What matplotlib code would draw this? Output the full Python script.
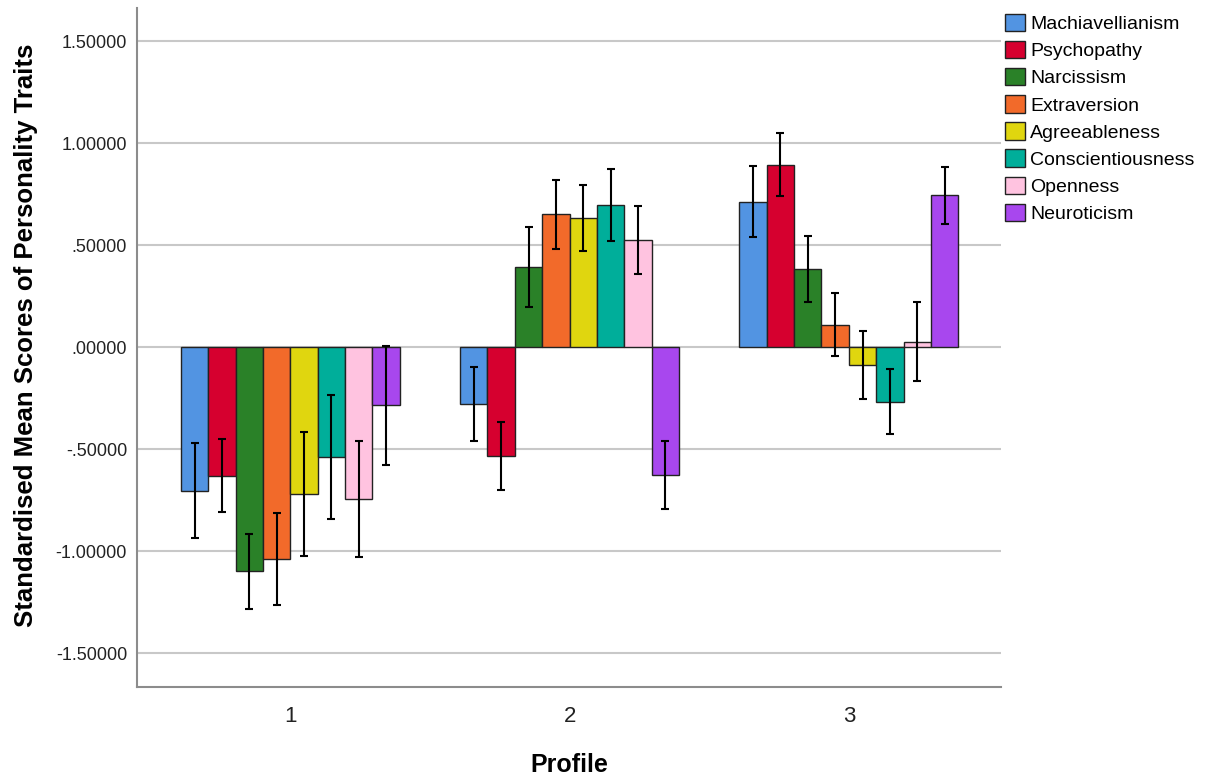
"""
Standardised mean scores of personality traits by profile
"""
import numpy as np
import matplotlib.pyplot as plt

plt.rcParams['font.family'] = ['Liberation Sans', 'DejaVu Sans']

profiles = ["1", "2", "3"]
traits = ["Machiavellianism", "Psychopathy", "Narcissism", "Extraversion",
          "Agreeableness", "Conscientiousness", "Openness", "Neuroticism"]
colors = ["#5294E2", "#D6002F", "#2A8128", "#F26A2A",
          "#E0D60F", "#00AE9A", "#FFC3E0", "#A847EE"]

# mean per trait, one list per profile
means_p1 = [-0.703, -0.629, -1.098, -1.039, -0.719, -0.536, -0.745, -0.284]
means_p2 = [-0.278, -0.533, 0.395, 0.652, 0.634, 0.698, 0.526, -0.626]
means_p3 = [0.714, 0.896, 0.384, 0.111, -0.088, -0.266, 0.028, 0.745]

# half-width of error bars
err_p1 = [0.234, 0.178, 0.185, 0.226, 0.305, 0.304, 0.285, 0.292]
err_p2 = [0.180, 0.168, 0.195, 0.170, 0.163, 0.177, 0.166, 0.168]
err_p3 = [0.174, 0.153, 0.160, 0.156, 0.166, 0.158, 0.194, 0.138]

means = np.array([means_p1, means_p2, means_p3])
errs = np.array([err_p1, err_p2, err_p3])

fig = plt.figure(figsize=(12.23, 7.78), dpi=100)
ax = fig.add_axes([0.1118, 0.1174, 0.7067, 0.8724])

x = np.arange(1, len(profiles) + 1)
w = 0.098
n = len(traits)
for i, trait in enumerate(traits):
    pos = x + (i - (n - 1) / 2) * w
    ax.bar(pos, means[:, i], width=w, color=colors[i], edgecolor="#222222",
           linewidth=1.0, label=trait, zorder=3)
    ax.errorbar(pos, means[:, i], yerr=errs[:, i], fmt="none", ecolor="black",
                elinewidth=1.5, capsize=2.6, capthick=1.5, zorder=4)

ax.set_xlim(0.45, 3.545)
ax.set_ylim(-1.664, 1.664)
ax.set_xticks(x)
ax.set_xticklabels(profiles, fontsize=16)
yt = [-1.5, -1.0, -0.5, 0.0, 0.5, 1.0, 1.5]
ax.set_yticks(yt)
ax.set_yticklabels(["-1.50000", "-1.00000", "-.50000", ".00000",
                    ".50000", "1.00000", "1.50000"], fontsize=13)
ax.tick_params(axis="both", length=0, colors="#222222")
ax.tick_params(axis="y", pad=7)
ax.tick_params(axis="x", pad=14)

ax.grid(axis="y", color="#C8C8C8", linewidth=1.5, zorder=0)
for s in ["top", "right"]:
    ax.spines[s].set_visible(False)
for s in ["left", "bottom"]:
    ax.spines[s].set_color("#8C8C8C")
    ax.spines[s].set_linewidth(1.5)

ax.set_xlabel("Profile", fontsize=18, fontweight="bold", labelpad=19)
ax.set_ylabel("Standardised Mean Scores of Personality Traits", fontsize=18.5,
              fontweight="bold")
ax.yaxis.set_label_coords(-0.114, 0.517)

ax.legend(loc="upper left", bbox_to_anchor=(0.998, 1.0), frameon=False,
          fontsize=14, handlelength=1.03, handleheight=1.0, handletextpad=0.25,
          labelspacing=0.4, borderaxespad=0.0, borderpad=0.3)

plt.savefig("out.png", dpi=100)
